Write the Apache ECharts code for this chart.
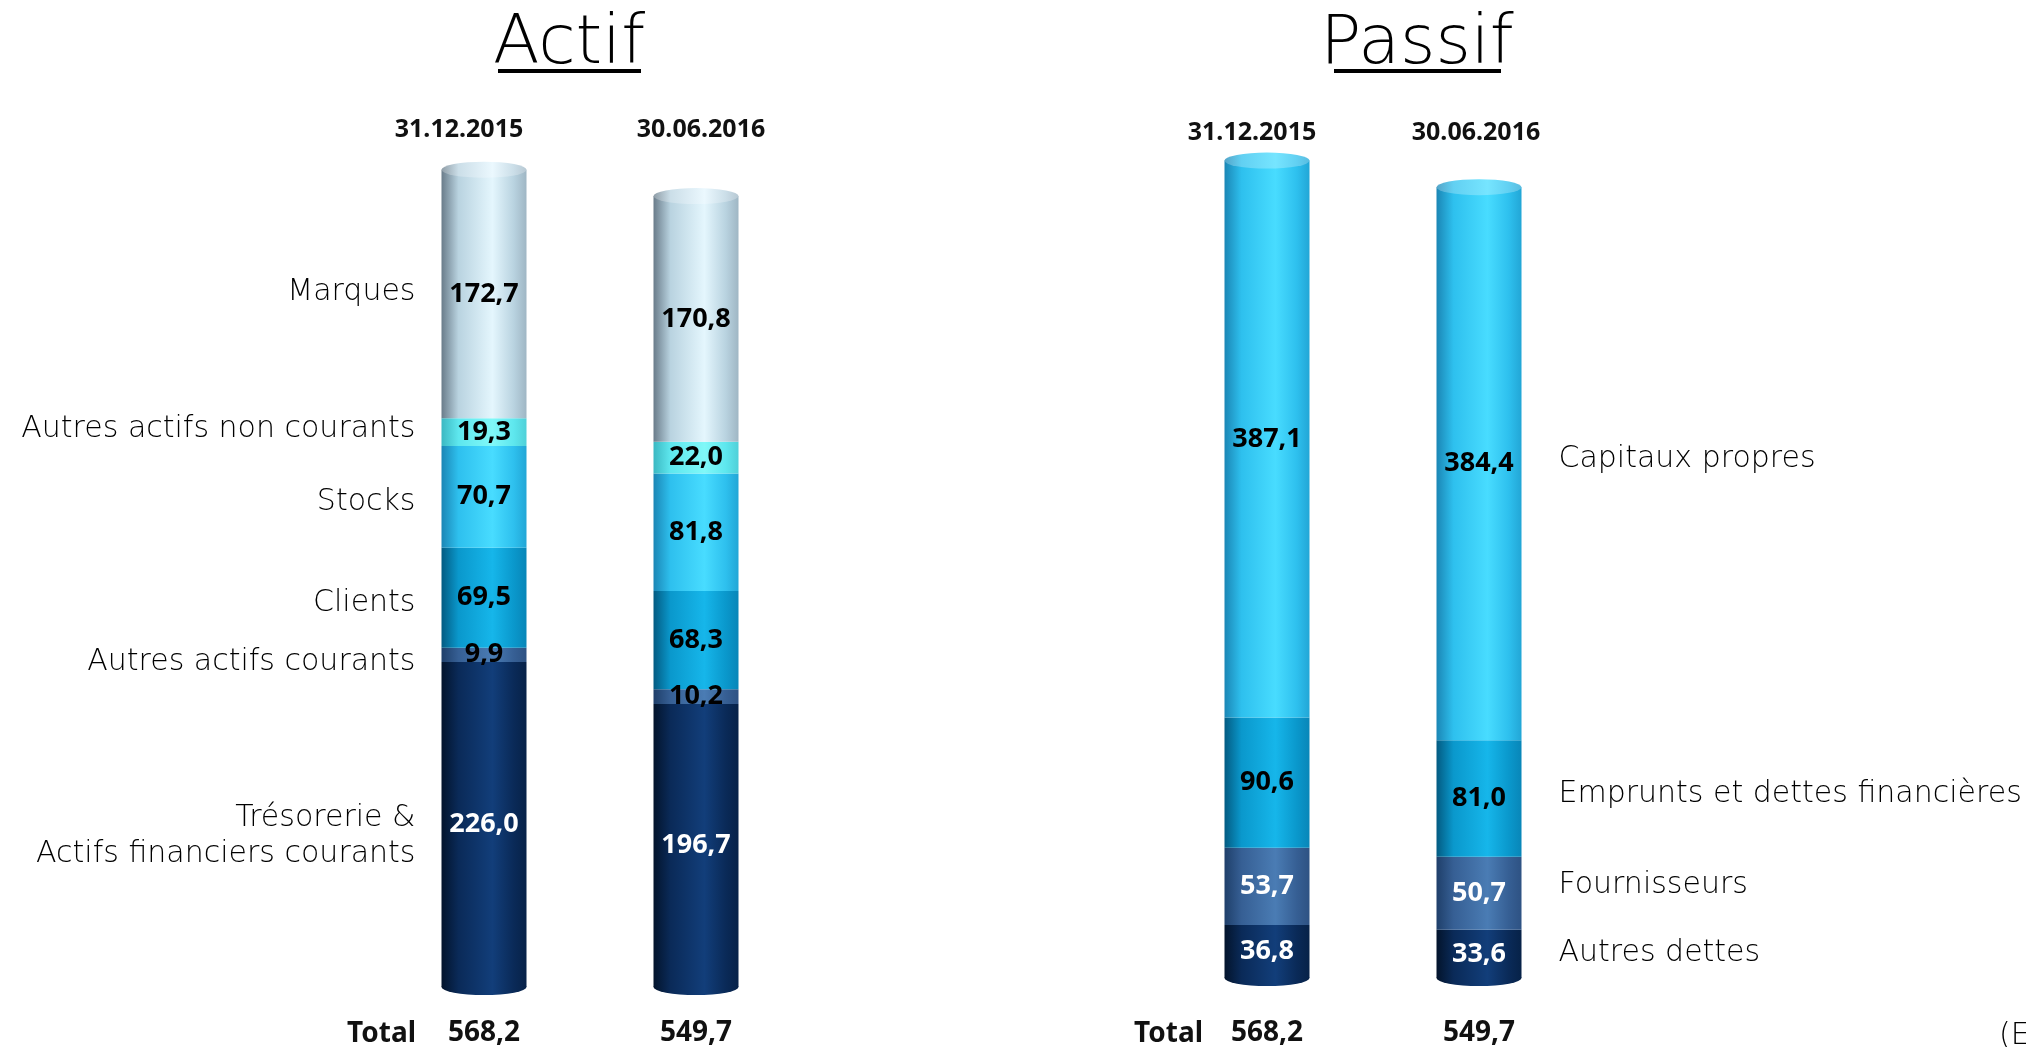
<!DOCTYPE html>
<html>
<head>
<meta charset="utf-8">
<script src="https://cdn.jsdelivr.net/npm/echarts@6/dist/echarts.min.js"></script>
<style>html,body{margin:0;padding:0;background:#fff;}#chart{width:2026px;height:1047px;}</style>
</head>
<body>
<div id="chart"></div>
<script>
// ---------- DATA ----------
const dates = ['31.12.2015', '30.06.2016'];

const actifNames = ['Trésorerie &\nActifs financiers courants', 'Autres actifs courants', 'Clients', 'Stocks', 'Autres actifs non courants', 'Marques'];
const actifTresorerie = [226.0, 196.7];
const actifAutresCourants = [9.9, 10.2];
const actifClients = [69.5, 68.3];
const actifStocks = [70.7, 81.8];
const actifAutresNonCourants = [19.3, 22.0];
const actifMarques = [172.7, 170.8];
const actifTotals = [568.2, 549.7];

const passifNames = ['Autres dettes', 'Fournisseurs', 'Emprunts et dettes financières', 'Capitaux propres'];
const passifAutresDettes = [36.8, 33.6];
const passifFournisseurs = [53.7, 50.7];
const passifEmprunts = [90.6, 81.0];
const passifCapitaux = [387.1, 384.4];
const passifTotals = [568.2, 549.7];

// ---------- STYLE ----------
const FONT = 'Noto Sans';
const LIGHT = 'DejaVu Sans';
const PAL = {
  navy:   ['#03142c', '#0a2a58', '#123e7a', '#072248'],
  steel:  ['#1f3f6a', '#365f94', '#4a7cb4', '#2e5283'],
  mid:    ['#035b82', '#0a98cc', '#16b6ea', '#0886b8'],
  sky:    ['#1b86b5', '#2ec0ee', '#48dcff', '#22a6d6'],
  turq:   ['#3bb8c2', '#5ee7ee', '#80f8f8', '#4fd0d8'],
  pale:   ['#6a7c8a', '#b9d3e0', '#e4f6fd', '#9fb6c4']
};
function cyl(c) {
  return new echarts.graphic.LinearGradient(0, 0, 1, 0, [
    {offset: 0, color: c[0]}, {offset: 0.2, color: c[1]}, {offset: 0.6, color: c[2]},
    {offset: 0.85, color: c[1]}, {offset: 1, color: c[3]}
  ]);
}
function lighten(c) {
  return c.map(h => {
    const n = parseInt(h.slice(1), 16);
    let r = n >> 16, g = (n >> 8) & 255, b = n & 255;
    r = Math.round(r + (255 - r) * 0.25); g = Math.round(g + (255 - g) * 0.25); b = Math.round(b + (255 - b) * 0.25);
    return '#' + ((1 << 24) + (r << 16) + (g << 8) + b).toString(16).slice(1);
  });
}
const fmt = v => v.toFixed(1).replace('.', ',');
const BARW = 85;

const actifLayers = [actifTresorerie, actifAutresCourants, actifClients, actifStocks, actifAutresNonCourants, actifMarques];
const actifPal = [PAL.navy, PAL.steel, PAL.mid, PAL.sky, PAL.turq, PAL.pale];
const actifLabelColors = ['#ffffff', '#000000', '#000000', '#000000', '#000000', '#000000'];
const actifNameOffsets = [[0, 12], [0, 7], [0, 6], [0, 5], [0, -3], [0, -2]];

const passifLayers = [passifAutresDettes, passifFournisseurs, passifEmprunts, passifCapitaux];
const passifPal = [PAL.navy, PAL.steel, PAL.mid, PAL.sky];
const passifLabelColors = ['#ffffff', '#ffffff', '#000000', '#000000'];
const passifNameOffsets = [[0, -1], [0, -8], [0, -4], [0, -4]];

function buildSide(idx, layers, names, pal, labelColors, nameIdx, namePos, nameDist, nameOffsets) {
  const series = [];
  const xAxisIndex = idx * 2 + 1;
  const yAxisIndex = idx;
  layers.forEach((arr, li) => {
    series.push({
      type: 'bar', name: names[li], stack: 'v' + idx, xAxisIndex, yAxisIndex,
      barWidth: BARW, barGap: '-100%', z: 2,
      itemStyle: {color: cyl(pal[li])},
      label: {show: true, position: 'inside', formatter: p => fmt(p.value),
        color: labelColors[li], fontFamily: FONT, fontWeight: 'bold', fontSize: 27},
      data: arr.slice()
    });
  });
  layers.forEach((arr, li) => {
    series.push({
      type: 'bar', name: names[li] + ' ', stack: 'n' + idx, xAxisIndex, yAxisIndex,
      barWidth: BARW, barGap: '-100%', z: 1, silent: true,
      itemStyle: {color: 'rgba(0,0,0,0)'},
      label: {show: false},
      data: arr.map((v, ci) => ({value: v, label: {
        show: ci === nameIdx, position: namePos, distance: nameDist, offset: nameOffsets[li],
        formatter: () => names[li], color: '#000', fontFamily: LIGHT, fontWeight: 200, fontSize: 30, lineHeight: 36,
        align: namePos === 'left' ? 'right' : 'left'}}))
    });
  });
  const sums = dates.map((d, ci) => layers.reduce((s, arr) => s + arr[ci], 0));
  series.push({
    type: 'pictorialBar', xAxisIndex, yAxisIndex, symbol: 'circle', symbolSize: [BARW, 16],
    symbolPosition: 'end', symbolOffset: [0, '-50%'], z: 3, silent: true,
    itemStyle: {color: cyl(lighten(pal[pal.length - 1]))}, data: sums
  });
  series.push({
    type: 'pictorialBar', xAxisIndex, yAxisIndex, symbol: 'circle', symbolSize: [BARW, 16],
    symbolPosition: 'start', symbolOffset: [0, '50%'], z: 0, silent: true,
    itemStyle: {color: cyl(pal[0])}, data: sums
  });
  return series;
}

const SCALE_H = 821; // grid height for 0..570
const grids = [
  {left: 378, width: 424, top: 167, height: SCALE_H},
  {left: 1161, width: 424, top: 158, height: SCALE_H}
];
const headerPads = [[[0, 50, 0, 0], [0, 0, 0, 10]], [[0, 30, 0, 0], [0, 6, 0, 0]]];
const topMargins = [25, 13];
const botMargins = [32, 41];
const totalsBySide = [actifTotals, passifTotals];

const xAxes = [];
[0, 1].forEach(g => {
  const rich = {};
  dates.forEach((d, i) => { rich['h' + i] = {fontFamily: FONT, fontWeight: 'bold', fontSize: 25, color: '#111', padding: headerPads[g][i]}; });
  xAxes.push({
    type: 'category', gridIndex: g, position: 'top', data: dates,
    axisLine: {show: false}, axisTick: {show: false}, splitLine: {show: false},
    axisLabel: {margin: topMargins[g], formatter: (v, i) => '{h' + i + '|' + v + '}', rich}
  });
  xAxes.push({
    type: 'category', gridIndex: g, position: 'bottom', data: dates,
    axisLine: {show: false}, axisTick: {show: false}, splitLine: {show: false},
    axisLabel: {margin: botMargins[g], formatter: (v, i) => fmt(totalsBySide[g][i]),
      fontFamily: FONT, fontWeight: 'bold', fontSize: 28, color: '#111'}
  });
});
const yAxes = [0, 1].map(g => ({type: 'value', gridIndex: g, min: 0, max: 570, show: false, splitLine: {show: false}}));

const series = [].concat(
  buildSide(0, actifLayers, actifNames, actifPal, actifLabelColors, 0, 'left', 26, actifNameOffsets),
  buildSide(1, passifLayers, passifNames, passifPal, passifLabelColors, 1, 'right', 37, passifNameOffsets)
);

const chart = echarts.init(document.getElementById('chart'), null, {renderer: 'canvas'});
chart.setOption({
  backgroundColor: '#ffffff',
  animation: false,
  grid: grids,
  xAxis: xAxes,
  yAxis: yAxes,
  series,
  graphic: [
    {type: 'text', x: 569, y: 45, style: {text: 'Actif', font: '200 68px "DejaVu Sans"', fill: '#000', align: 'center', verticalAlign: 'middle'}},
    {type: 'rect', shape: {x: 498, y: 69, width: 143, height: 4}, style: {fill: '#000'}},
    {type: 'text', x: 1417, y: 45, style: {text: 'Passif', font: '200 68px "DejaVu Sans"', fill: '#000', align: 'center', verticalAlign: 'middle'}},
    {type: 'rect', shape: {x: 1334, y: 69, width: 167, height: 4}, style: {fill: '#000'}},
    {type: 'text', x: 416, y: 1034, style: {text: 'Total', font: 'bold 28px "Noto Sans"', fill: '#111', align: 'right', verticalAlign: 'middle'}},
    {type: 'text', x: 1203, y: 1034, style: {text: 'Total', font: 'bold 28px "Noto Sans"', fill: '#111', align: 'right', verticalAlign: 'middle'}},
    {type: 'text', x: 1999, y: 1036, style: {text: "(En millions d'euros)", font: '200 30px "DejaVu Sans"', fill: '#000', align: 'left', verticalAlign: 'middle'}}
  ]
});
</script>
</body>
</html>
